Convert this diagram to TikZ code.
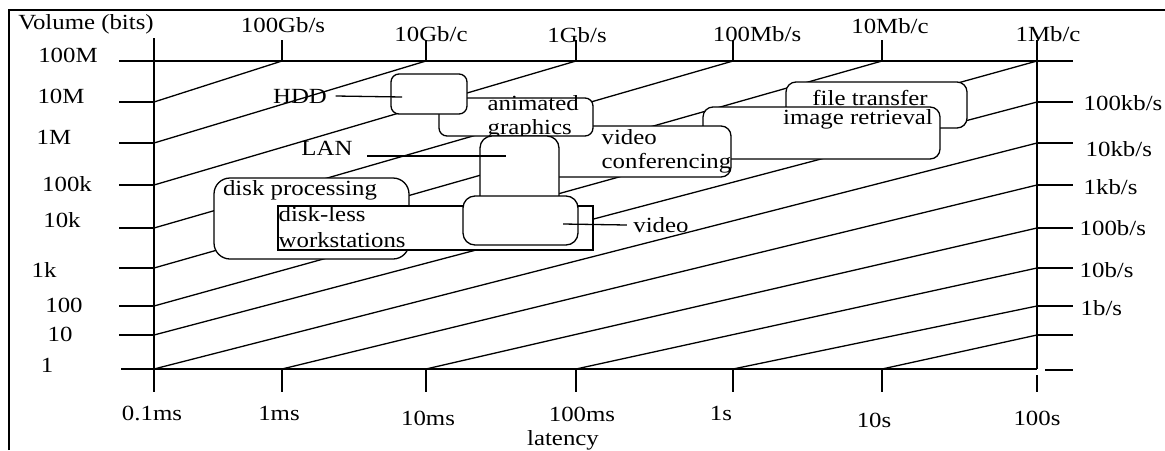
\documentclass[tikz,border=0pt]{standalone}
\usepackage{fontspec}
\setmainfont[FakeStretch=1.15]{Liberation Serif}
\begin{document}
\begin{tikzpicture}[x=0.5pt,y=-0.5pt,line width=0.65pt,
    lbl/.style={inner sep=0pt,font=\fontsize{10.8}{13}\selectfont},
    blob/.style={draw,fill=white,rounded corners=5pt}]
    \useasboundingbox (0,0) rectangle (1165,450);
    % Frame
    \draw[line width=1pt] (9,450) -- (9,10) -- (1165,10);

    % Axes
    \draw (154,38) -- (154,392);
    \draw (1037,40) -- (1037,369);
    \draw (121,369) -- (1037,369);
    \draw (119,61) -- (1073,61);
    \draw (1045,370) -- (1073,370);
    \draw (1037,375) -- (1037,392);

    % Ticks
    \foreach \y in {102,143,185,228,268,306,335} {
        \draw (119,\y) -- (154,\y);
        \draw (1037,\y) -- (1073,\y);
    };
    \foreach \x in {282,426,576,733,882} {
        \draw (\x,40) -- (\x,61);
        \draw (\x,369) -- (\x,392);
    };

    % Lines of constant bandwidth
    \foreach \xa/\ya/\xb/\yb in {154/102/282/61, 154/143/426/61, 154/185/576/61,
        154/228/733/61, 154/268/882/61, 154/306/1037/61, 154/335/1037/102,
        154/369/1037/143, 282/369/1037/185, 426/369/1037/228, 576/369/1037/268,
        733/369/1037/306, 882/369/1037/335} {
        \draw (\xa,\ya) -- (\xb,\yb);
    };

    % Axis labels
    \node[lbl] (vol) at (86,24) {Volume (bits)};
    \node[lbl] (lat) at (563,440) {latency};
    \foreach \x/\y/\txt in {68/55/100M, 61/96/10M, 54/137/1M, 67/184/100k,
        62/220/10k, 44/270/1k, 64/305/100, 60/334/10, 47/365/1} {
        \node[lbl] (vol\y) at (\x,\y) {\txt};
    };
    \foreach \x/\y/\txt in {283/25/{100Gb/s}, 431/34/{10Gb/c}, 577/35/{1Gb/s},
        757/34/{100Mb/s}, 890/26/{10Mb/c}, 1048/34/{1Mb/c}} {
        \node[lbl] (bw\x) at (\x,\y) {\txt};
    };
    \foreach \x/\y/\txt in {1083/103/{100kb/s}, 1085/149/{10kb/s}, 1083/187/{1kb/s},
        1079/228/{100b/s}, 1079/270/{10b/s}, 1080/308/{1b/s}} {
        \node[lbl,anchor=west] (rate\y) at (\x,\y) {\txt};
    };
    \foreach \x/\y/\txt in {152/413/0.1ms, 279/413/1ms, 428/418/10ms, 582/414/100ms,
        721/413/1s, 874/420/10s, 1037/418/100s} {
        \node[lbl] (lat\x) at (\x,\y) {\txt};
    };

    % Application areas
    \draw[blob] (786,82) rectangle (967,128);
    \node[lbl] (file) at (870,98) {file transfer};
    \draw[blob] (703,107) rectangle (940,159);
    \node[lbl] (image) at (858,119) {image retrieval};
    \draw[blob] (540,126) rectangle (731,177);
    \node[lbl,anchor=west] (vconf1) at (601,137) {video};
    \node[lbl,anchor=west] (vconf2) at (601,163) {conferencing};
    \draw[blob,rounded corners=4pt] (439,98) rectangle (593,136);
    \node[lbl,anchor=west] (anim1) at (487,103) {animated};
    \node[lbl,anchor=west] (anim2) at (487,129) {graphics};
    \draw[blob,rounded corners=4pt] (391,74) rectangle (467,114);
    \draw[blob,rounded corners=6pt] (480,200) -- (480,136) -- (559,136) -- (559,200);
    \draw[blob,rounded corners=8pt] (214,178) rectangle (409,259);
    \node[lbl] (disk) at (300,190) {disk processing};
    \draw[fill=white] (278,206) rectangle (593,250);
    \node[lbl,anchor=west] (dless1) at (278,214) {disk-less};
    \node[lbl,anchor=west] (dless2) at (278,240) {workstations};
    \draw[blob,rounded corners=6pt] (463,196) rectangle (578,245);

    % Pointers
    \node[lbl] (hdd) at (300,96) {HDD};
    \coordinate (hddin) at (402,97);
    \draw ([xshift=4pt]hdd.east) -- (hddin);
    \node[lbl] (lan) at (327,148) {LAN};
    \coordinate (lanin) at (506,156);
    \draw ([xshift=7pt,yshift=-4pt]lan.east) -- (lanin);
    \node[lbl] (vid) at (661,225) {video};
    \coordinate (vidin) at (563,224);
    \draw (vidin) -- ([xshift=-3pt]vid.west);
\end{tikzpicture}
\end{document}
